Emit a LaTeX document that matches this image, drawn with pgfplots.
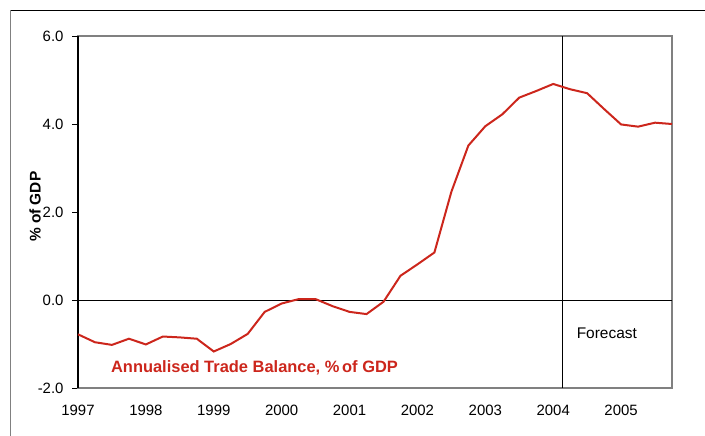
\documentclass[border=0pt]{standalone}
\usepackage{pgfplots}
\pgfplotsset{compat=1.18}
\usepackage{fontspec}
\setmainfont{Liberation Sans}
\definecolor{tbred}{RGB}{204,38,28}
\definecolor{framegray}{RGB}{128,128,128}

\begin{document}
\begin{tikzpicture}[x=1bp,y=1bp]
  % page size and outer frame
  \path[use as bounding box] (0,0) rectangle (705,-436);
  \draw[black, line width=1.2bp] (10,-10.5) -- (705,-10.5);
  \draw[framegray, line width=1.2bp] (10.5,-10.5) -- (10.5,-436);

  \begin{axis}[
      at={(78bp,-388bp)}, anchor=south west,
      scale only axis,
      width=594bp, height=352bp,
      xmin=1997, xmax=2005.75,
      ymin=-2, ymax=6,
      xtick={1997,1998,...,2005},
      xticklabel style={/pgf/number format/1000 sep={}, yshift=-8bp},
      x tick style={draw=none},
      ytick={-2,0,2,4,6},
      ytick pos=left,
      tick align=outside,
      major tick length=6bp,
      y tick style={black, line width=0.8bp},
      yticklabel style={xshift=-5bp, /pgf/number format/.cd, fixed, fixed zerofill, precision=1},
      /pgf/number format/assume math mode=true,
      ticklabel style={font=\fontsize{15}{18}\selectfont, black},
      axis line style={framegray, line width=1.2bp},
      ylabel={\bfseries \% of GDP},
      ylabel style={font=\fontsize{15.5}{18}\selectfont, at={(rel axis cs:0,0.515)}, anchor=center, yshift=43bp},
      clip=false,
    ]
    % left axis in black, zero line and forecast divider
    \draw[black, line width=1.6bp] (rel axis cs:0,0) -- (rel axis cs:0,1);
    \draw[black, line width=0.8bp] (axis cs:1997,0) -- (axis cs:2005.75,0);
    \draw[black, line width=0.8bp] (axis cs:2004.14,-2) -- (axis cs:2004.14,6);

    \addplot[tbred, line width=2bp, mark=none] table {
      x y
      1997.00 -0.78
      1997.25 -0.96
      1997.50 -1.02
      1997.75 -0.88
      1998.00 -1.01
      1998.25 -0.83
      1998.50 -0.85
      1998.75 -0.88
      1999.00 -1.17
      1999.25 -1.00
      1999.50 -0.77
      1999.75 -0.27
      2000.00 -0.08
      2000.25 0.02
      2000.50 0.02
      2000.75 -0.14
      2001.00 -0.27
      2001.25 -0.32
      2001.50 -0.04
      2001.75 0.55
      2002.00 0.81
      2002.25 1.08
      2002.50 2.46
      2002.75 3.51
      2003.00 3.95
      2003.25 4.22
      2003.50 4.60
      2003.75 4.75
      2004.00 4.91
      2004.25 4.79
      2004.50 4.70
      2004.75 4.34
      2005.00 3.99
      2005.25 3.94
      2005.50 4.03
      2005.75 4.00
    };

    \node[font=\fontsize{15.5}{18}\selectfont] at (axis cs:2004.79,-0.75) {Forecast};
    \node[font=\bfseries\fontsize{16.5}{18}\selectfont, text=tbred] at (axis cs:1999.60,-1.55)
      {Annualised Trade Balance, \%\,of GDP};
  \end{axis}
\end{tikzpicture}
\end{document}
